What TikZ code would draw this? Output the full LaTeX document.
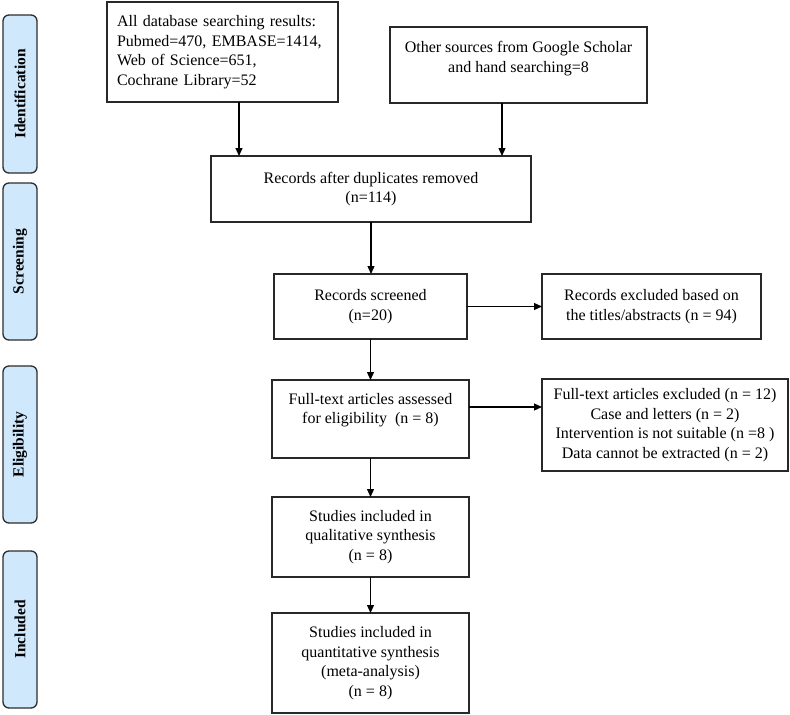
\documentclass[tikz,border=0pt]{standalone}
\usepackage{fontspec}
\setmainfont{Liberation Serif}
\usetikzlibrary{arrows.meta}
\definecolor{lblfill}{RGB}{207,232,252}
\definecolor{lbldraw}{RGB}{45,45,45}
\definecolor{boxdraw}{RGB}{40,40,40}
\begin{document}
\begin{tikzpicture}[x=1pt,y=-1pt,
  box/.style={draw=boxdraw, line width=1.3pt, anchor=north west, inner sep=0pt, outer sep=0pt},
  txt/.style={align=center, font=\fontsize{16}{19.5}\selectfont, inner sep=0pt},
  stage/.style={draw=lbldraw, fill=lblfill, rounded corners=6pt, line width=1.3pt, anchor=north west, minimum width=34pt, inner sep=0pt, outer sep=0pt},
  stagetxt/.style={rotate=90, font=\fontsize{15.5}{18}\selectfont\bfseries, inner sep=0pt},
  arr/.style={-{Triangle[length=8pt,width=7pt]}, line width=1.2pt}
]
\useasboundingbox (0,0) rectangle (790,715);
\fill[white] (0,0) rectangle (790,715);

% stage labels
\node[stage, minimum height=158pt] (s1) at (3,15) {};
\node[stagetxt] (s1t) at (s1.center) {Identification};
\node[stage, minimum height=157pt] (s2) at (3,183) {};
\node[stagetxt] (s2t) at (s2.center) {Screening};
\node[stage, minimum height=157pt] (s3) at (3,366) {};
\node[stagetxt] (s3t) at (s3.center) {Eligibility};
\node[stage, minimum height=157pt] (s4) at (3,551) {};
\node[stagetxt] (s4t) at (s4.center) {Included};

% boxes
\node[box, txt, align=left, text width=211pt, minimum width=231pt, minimum height=100pt] (A) at (107,2)
  {All database searching results:\\Pubmed=470, EMBASE=1414,\\Web of Science=651,\\Cochrane Library=52};
\node[box, minimum width=257pt, minimum height=76pt] (B) at (390,27) {};
\node[txt] (Bt) at (518.5,58.5) {Other sources from Google Scholar\\and hand searching=8};
\node[box, txt, minimum width=320pt, minimum height=66pt] (C) at (211,156)
  {Records after duplicates removed\\(n=114)};
\node[box, txt, minimum width=193pt, minimum height=65pt] (D) at (274,274)
  {Records screened\\(n=20)};
\node[box, txt, minimum width=219pt, minimum height=65pt] (E) at (542,274)
  {Records excluded based on\\the titles/abstracts (n = 94)};
\node[box, minimum width=197pt, minimum height=78pt] (F) at (272,380) {};
\node[txt] (Ft) at (370.5,410) {Full-text articles assessed\\for eligibility~ (n = 8)};
\node[box, txt, minimum width=246pt, minimum height=92pt] (G) at (542,379)
  {Full-text articles excluded (n = 12)\\Case and letters (n = 2)\\Intervention is not suitable (n =8 )\\Data cannot be extracted (n = 2)};
\node[box, txt, minimum width=197pt, minimum height=80pt] (H) at (272,497)
  {Studies included in\\qualitative synthesis\\(n = 8)};
\node[box, txt, minimum width=197pt, minimum height=100pt] (I) at (272,613)
  {Studies included in\\quantitative synthesis\\(meta-analysis)\\(n = 8)};

% connectors
\draw[arr] ([xshift=16.5pt]A.south) -- ([xshift=16.5pt]A.south |- C.north);
\draw[arr] ([xshift=-16.5pt]B.south) -- ([xshift=-16.5pt]B.south |- C.north);
\draw[arr] (C.south) -- (C.south |- D.north);
\draw[arr] (D.east) -- (D.east -| E.west);
\draw[arr] (D.south) -- (D.south |- F.north);
\draw[arr] ([yshift=12pt]F.east) -- ([yshift=12pt]F.east -| G.west);
\draw[arr] (F.south) -- (F.south |- H.north);
\draw[arr] (H.south) -- (H.south |- I.north);
\end{tikzpicture}
\end{document}
